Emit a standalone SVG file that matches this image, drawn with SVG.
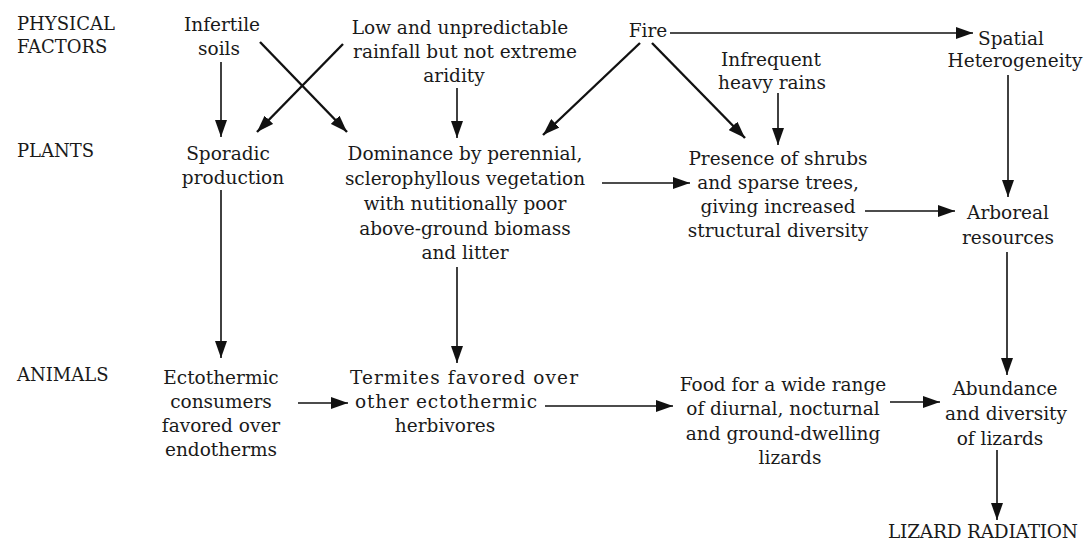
<svg xmlns="http://www.w3.org/2000/svg" width="1086" height="544" viewBox="0 0 1086 544">
<defs>
<style>
text{font-family:"DejaVu Serif","Liberation Serif",serif;font-size:18.5px;fill:#1a1a1a}
.c{text-anchor:middle}
.l{text-anchor:start;font-size:18px}
.e{stroke:#111;stroke-width:1.6;fill:none;marker-end:url(#ah)}
.d{stroke:#111;stroke-width:2.4;fill:none;marker-end:url(#ah)}
</style>
<marker id="ah" markerUnits="userSpaceOnUse" markerWidth="17" markerHeight="12" refX="17" refY="6" orient="auto">
<path d="M0,0 L17,6 L0,12 z" fill="#111"/>
</marker>
</defs>
<rect width="1086" height="544" fill="#fff"/>
<g id="row-labels">
<text class="l" x="17" y="30">PHYSICAL</text>
<text class="l" x="17" y="53">FACTORS</text>
<text class="l" x="17" y="157">PLANTS</text>
<text class="l" x="17" y="381">ANIMALS</text>
</g>
<g id="connectors">
<line class="e" x1="221" y1="62" x2="221" y2="137"/>
<line class="d" x1="260" y1="42" x2="347" y2="132"/>
<line class="d" x1="343" y1="44" x2="257" y2="132"/>
<line class="e" x1="457" y1="88" x2="457" y2="138"/>
<line class="d" x1="640" y1="43" x2="543" y2="135"/>
<line class="d" x1="652" y1="43" x2="745" y2="138"/>
<line class="e" x1="778" y1="93" x2="778" y2="145"/>
<line class="e" x1="670" y1="33" x2="973" y2="33"/>
<line class="e" x1="1008" y1="75" x2="1008" y2="197"/>
<line class="e" x1="602" y1="183" x2="690" y2="183"/>
<line class="e" x1="865" y1="211" x2="955" y2="211"/>
<line class="e" x1="221" y1="190" x2="221" y2="358"/>
<line class="e" x1="457" y1="267" x2="457" y2="363"/>
<line class="e" x1="1007" y1="252" x2="1007" y2="375"/>
<line class="e" x1="298" y1="403" x2="348" y2="403"/>
<line class="e" x1="545" y1="406" x2="673" y2="406"/>
<line class="e" x1="890" y1="402" x2="940" y2="402"/>
<line class="e" x1="997" y1="450" x2="997" y2="520"/>
</g>
<g id="infertile-soils">
<text class="c" x="222" y="31">Infertile</text>
<text class="c" x="219" y="55">soils</text>
</g>
<g id="low-rainfall">
<text class="c" x="460" y="34">Low and unpredictable</text>
<text class="c" x="465" y="58">rainfall but not extreme</text>
<text class="c" x="454" y="82">aridity</text>
</g>
<g id="fire">
<text class="c" x="648" y="37">Fire</text>
</g>
<g id="infrequent-rains">
<text class="c" x="771" y="66">Infrequent</text>
<text class="c" x="772" y="89">heavy rains</text>
</g>
<g id="spatial-heterogeneity">
<text class="c" x="1011" y="45">Spatial</text>
<text class="c" x="1015" y="67">Heterogeneity</text>
</g>
<g id="sporadic-production">
<text class="c" x="228" y="160">Sporadic</text>
<text class="c" x="233" y="184">production</text>
</g>
<g id="dominance">
<text class="c" x="465" y="160">Dominance by perennial,</text>
<text class="c" x="465" y="185">sclerophyllous vegetation</text>
<text class="c" x="465" y="210">with nutitionally poor</text>
<text class="c" x="465" y="235">above-ground biomass</text>
<text class="c" x="465" y="259">and litter</text>
</g>
<g id="presence-shrubs">
<text class="c" x="778" y="165">Presence of shrubs</text>
<text class="c" x="778" y="189">and sparse trees,</text>
<text class="c" x="778" y="213">giving increased</text>
<text class="c" x="778" y="237">structural diversity</text>
</g>
<g id="arboreal-resources">
<text class="c" x="1008" y="219">Arboreal</text>
<text class="c" x="1008" y="244">resources</text>
</g>
<g id="ectothermic-consumers">
<text class="c" x="221" y="384">Ectothermic</text>
<text class="c" x="221" y="408">consumers</text>
<text class="c" x="221" y="432">favored over</text>
<text class="c" x="221" y="456">endotherms</text>
</g>
<g id="termites">
<text class="c" x="464" y="384" textLength="228" lengthAdjust="spacing">Termites favored over</text>
<text class="c" x="446" y="408" textLength="182" lengthAdjust="spacing">other ectothermic</text>
<text class="c" x="445" y="432">herbivores</text>
</g>
<g id="food-lizards">
<text class="c" x="783" y="391">Food for a wide range</text>
<text class="c" x="783" y="415">of diurnal, nocturnal</text>
<text class="c" x="783" y="440">and ground-dwelling</text>
<text class="c" x="790" y="464">lizards</text>
</g>
<g id="abundance-lizards">
<text class="c" x="1005" y="395">Abundance</text>
<text class="c" x="1006" y="420">and diversity</text>
<text class="c" x="1000" y="445">of lizards</text>
</g>
<g id="lizard-radiation">
<text class="c" x="983" y="538" textLength="190" lengthAdjust="spacing">LIZARD RADIATION</text>
</g>
</svg>
